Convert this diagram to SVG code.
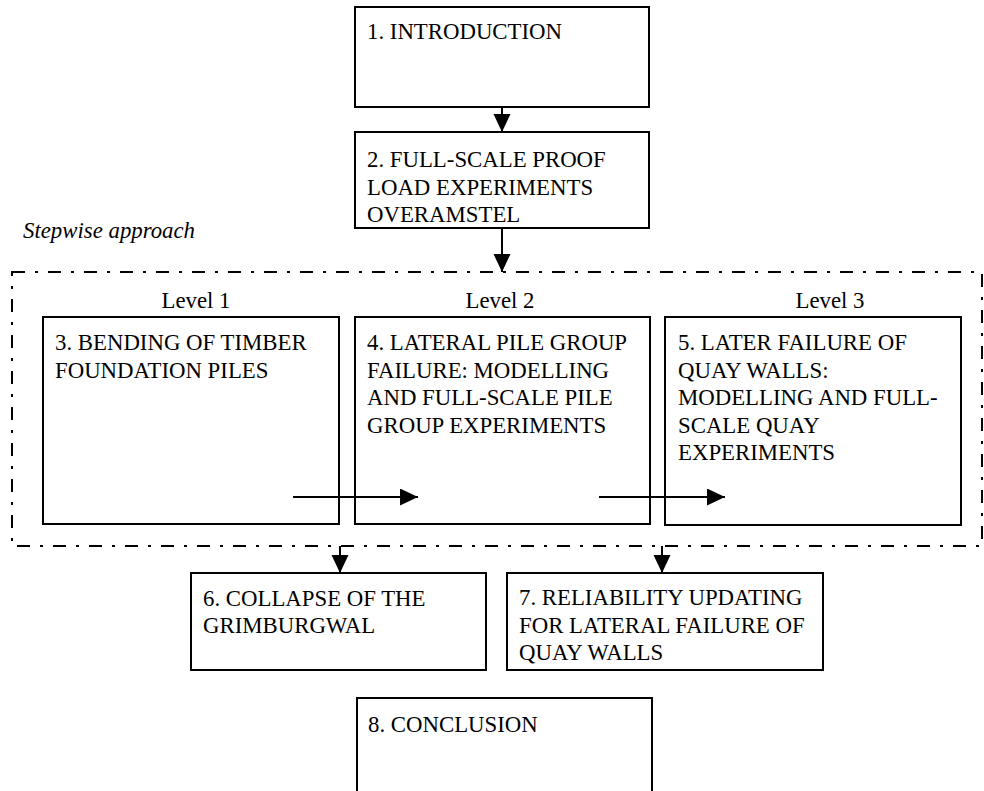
<svg xmlns="http://www.w3.org/2000/svg" width="984" height="791" viewBox="0 0 984 791">
<style>
.box{fill:#fff;stroke:#000;stroke-width:2}
.lbl{font-family:"Liberation Serif","Times New Roman",serif;font-size:22.8px;fill:#000}
.lvl{text-anchor:middle}
.it{font-style:italic}
.c{stroke:#000;stroke-width:2;fill:none;marker-end:url(#ah)}
.frame{fill:none;stroke:#000;stroke-width:2;stroke-dasharray:13 10 3 10}
</style>
<defs>
<marker id="ah" markerUnits="userSpaceOnUse" markerWidth="18" markerHeight="18" refX="18" refY="8.5" orient="auto">
<path d="M0,0 L18,8.5 L0,17 z" fill="#000"/>
</marker>
</defs>
<rect x="0" y="0" width="984" height="791" fill="#fff"/>
<g font-family="'Liberation Serif', 'Times New Roman', serif" font-size="22.8" fill="#000">
<g id="stepwise">
<rect class="frame" x="12" y="272" width="970" height="274"/>
<text class="lbl it" font-style="italic" x="23" y="238">Stepwise approach</text>
<text class="lbl lvl" text-anchor="middle" x="196" y="308">Level 1</text>
<text class="lbl lvl" text-anchor="middle" x="500" y="308">Level 2</text>
<text class="lbl lvl" text-anchor="middle" x="830" y="308">Level 3</text>
</g>
<g id="n1">
<rect class="box" x="355" y="7" width="294" height="100"/>
<text class="lbl" x="367" y="39">1. INTRODUCTION</text>
</g>
<g id="n2">
<rect class="box" x="355" y="132" width="294" height="96"/>
<text class="lbl" x="367" y="167">2. FULL-SCALE PROOF</text>
<text class="lbl" x="367" y="194.5">LOAD EXPERIMENTS</text>
<text class="lbl" x="367" y="222">OVERAMSTEL</text>
</g>
<g id="n3">
<rect class="box" x="43" y="317" width="296" height="207"/>
<text class="lbl" x="55" y="350">3. BENDING OF TIMBER</text>
<text class="lbl" x="55" y="377.5">FOUNDATION PILES</text>
</g>
<g id="n4">
<rect class="box" x="355" y="317" width="295" height="207"/>
<text class="lbl" x="367" y="350">4. LATERAL PILE GROUP</text>
<text class="lbl" x="367" y="377.5">FAILURE: MODELLING</text>
<text class="lbl" x="367" y="405">AND FULL-SCALE PILE</text>
<text class="lbl" x="367" y="432.5">GROUP EXPERIMENTS</text>
</g>
<g id="n5">
<rect class="box" x="665" y="317" width="296" height="208"/>
<text class="lbl" x="678" y="350">5. LATER FAILURE OF</text>
<text class="lbl" x="678" y="377.5">QUAY WALLS:</text>
<text class="lbl" x="678" y="405">MODELLING AND FULL-</text>
<text class="lbl" x="678" y="432.5">SCALE QUAY</text>
<text class="lbl" x="678" y="460">EXPERIMENTS</text>
</g>
<g id="n6">
<rect class="box" x="191" y="573" width="295" height="97"/>
<text class="lbl" x="203" y="606">6. COLLAPSE OF THE</text>
<text class="lbl" x="203" y="633">GRIMBURGWAL</text>
</g>
<g id="n7">
<rect class="box" x="507" y="573" width="316" height="97"/>
<text class="lbl" x="519" y="605">7. RELIABILITY UPDATING</text>
<text class="lbl" x="519" y="632.5">FOR LATERAL FAILURE OF</text>
<text class="lbl" x="519" y="660">QUAY WALLS</text>
</g>
<g id="n8">
<rect class="box" x="357" y="698" width="295" height="110"/>
<text class="lbl" x="368" y="732">8. CONCLUSION</text>
</g>
</g>
<g id="connectors">
<line class="c" x1="502" y1="107" x2="502" y2="132"/>
<line class="c" x1="502" y1="228" x2="502" y2="272"/>
<line class="c" x1="293" y1="497" x2="418" y2="497"/>
<line class="c" x1="599" y1="497" x2="725" y2="497"/>
<line class="c" x1="340" y1="546" x2="340" y2="573"/>
<line class="c" x1="662" y1="546" x2="662" y2="573"/>
</g>
</svg>
